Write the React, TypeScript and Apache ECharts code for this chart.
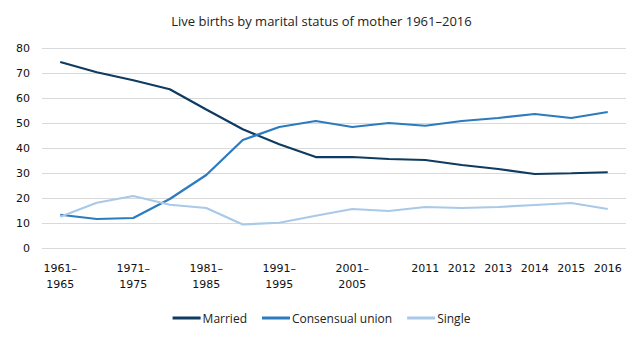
import React, { useEffect, useRef } from "react";
import * as echarts from "echarts";

const categories = [
  "1961–1965", "1966–1970", "1971–1975", "1976–1980", "1981–1985",
  "1986–1990", "1991–1995", "1996–2000", "2001–2005", "2006–2010",
  "2011", "2012", "2013", "2014", "2015", "2016",
];
const shownPeriodLabels = ["1961–1965", "1971–1975", "1981–1985", "1991–1995", "2001–2005"];

const married = [74.4, 70.3, 67.1, 63.5, 55.4, 47.5, 41.5, 36.4, 36.4, 35.6, 35.2, 33.2, 31.6, 29.6, 29.9, 30.3];
const consensual = [13.3, 11.6, 12.0, 19.6, 29.2, 43.2, 48.4, 50.8, 48.4, 50.0, 48.9, 50.8, 52.0, 53.6, 52.0, 54.4];
const single = [12.5, 18.1, 20.8, 17.3, 16.0, 9.4, 10.1, 12.9, 15.6, 14.8, 16.4, 16.0, 16.4, 17.2, 18.0, 15.6];

const yTicks = [0, 10, 20, 30, 40, 50, 60, 70, 80];

const seriesNames = ["Married", "Consensual union", "Single"];
const colors = ["#0e3b5f", "#2c7bbf", "#a9c9e8"];

export default function App() {
  const ref = useRef<HTMLDivElement>(null);
  useEffect(() => {
    if (!ref.current) return;
    const chart = echarts.init(ref.current, null, { renderer: "svg" });
    const narrow = "'Open Sans', 'Noto Sans', sans-serif";
    const axisFont = "'DejaVu Sans', Verdana, sans-serif";
    chart.setOption({
      animation: false,
      title: {
        text: "Live births by marital status of mother 1961–2016",
        left: "center",
        top: 9,
        textStyle: { fontFamily: narrow, fontSize: 13, fontWeight: "normal", color: "#222" },
      },
      legend: {
        bottom: 11,
        left: "center",
        itemWidth: 28,
        itemHeight: 3,
        itemGap: 15,
        icon: "rect",
        data: seriesNames,
        textStyle: { fontFamily: narrow, fontSize: 12, color: "#222", padding: [0, 0, 0, -3] },
      },
      grid: { left: 42, right: 17, top: 48, height: 200, containLabel: false },
      xAxis: {
        type: "category",
        data: categories,
        boundaryGap: true,
        axisLine: { show: false },
        axisTick: { show: false },
        axisLabel: {
          interval: 0,
          margin: 12,
          lineHeight: 16,
          fontFamily: axisFont,
          fontSize: 11,
          color: "#111",
          formatter: (v: string) => {
            if (v.indexOf("–") < 0) return v;
            if (shownPeriodLabels.indexOf(v) < 0) return "";
            return v.replace("–", "–\n");
          },
        },
      },
      yAxis: {
        type: "value",
        min: yTicks[0],
        max: yTicks[yTicks.length - 1],
        interval: 10,
        axisLabel: { margin: 12, fontFamily: axisFont, fontSize: 11, color: "#111" },
        splitLine: { lineStyle: { color: "#d9d9d9", width: 1 } },
        axisLine: { show: false },
        axisTick: { show: false },
      },
      series: [married, consensual, single].map((d, i) => ({
        name: seriesNames[i],
        type: "line",
        data: d,
        symbol: "none",
        color: colors[i],
        lineStyle: { width: 2.25, color: colors[i] },
      })),
    });
    return () => chart.dispose();
  }, []);
  return <div ref={ref} style={{ width: 643, height: 340, position: "absolute", left: 0, top: 0 }} />;
}
